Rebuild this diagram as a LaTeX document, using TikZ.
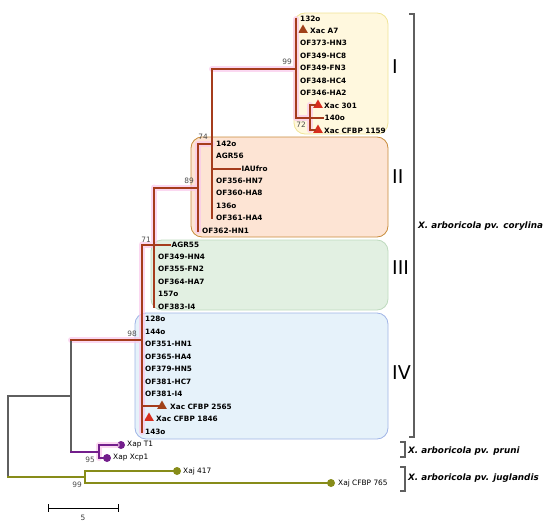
\documentclass[tikz,border=0pt]{standalone}
\usepackage{fontspec}
\setmainfont{DejaVu Sans}
\usetikzlibrary{shapes.geometric}
\definecolor{clred}{RGB}{165,60,28}
\definecolor{clgray}{RGB}{95,95,95}
\definecolor{clprun}{RGB}{115,30,140}
\definecolor{cljugl}{RGB}{135,140,25}
\definecolor{clglow}{RGB}{250,200,235}
\definecolor{trired}{RGB}{215,45,30}
\definecolor{tribrown}{RGB}{160,65,25}
\definecolor{fillI}{RGB}{255,248,222}   \definecolor{drawI}{RGB}{240,228,150}
\definecolor{fillII}{RGB}{253,228,212}  \definecolor{drawII}{RGB}{200,140,60}
\definecolor{fillIII}{RGB}{226,240,226} \definecolor{drawIII}{RGB}{190,218,190}
\definecolor{fillIV}{RGB}{230,242,250}  \definecolor{drawIV}{RGB}{160,180,230}
\tikzstyle{leaf} = [anchor=west, inner sep=1.5pt, font=\fontsize{7.3}{8}\selectfont\bfseries]
\tikzstyle{outleaf} = [anchor=west, inner sep=1.5pt, font=\fontsize{7.4}{8}\selectfont]
\tikzstyle{boot} = [inner sep=0pt, text=black!70, font=\fontsize{7.4}{8}\selectfont]
\tikzstyle{groupbox} = [rounded corners=11pt, line width=0.8pt]
\tikzstyle{roman} = [anchor=west, inner sep=0pt, font=\fontsize{19}{20}\selectfont]
\tikzstyle{taxon} = [anchor=west, inner sep=0pt, font=\fontsize{8.8}{10}\selectfont\bfseries\itshape]
\tikzstyle{xactri} = [regular polygon, regular polygon sides=3, inner sep=0pt, minimum size=11pt, fill=trired]
\tikzstyle{dotmark} = [circle, inner sep=0pt, minimum size=8pt]

\begin{document}
\begin{tikzpicture}[x=1pt,y=-1pt,line cap=rect,
    redline/.style={draw=clred,line width=2pt},
    grayline/.style={draw=clgray,line width=1.2pt},
    prunline/.style={draw=clprun,line width=2pt},
    juglline/.style={draw=cljugl,line width=2pt},
    glowline/.style={draw=clglow,line width=6pt,opacity=0.7,line cap=round}]
  \useasboundingbox (0,0) rectangle (550,525);

  \draw[groupbox, fill=fillI, draw=drawI]     (294,13)  rectangle (388,134);
  \draw[groupbox, fill=fillII, draw=drawII]   (191,137) rectangle (388,237);
  \draw[groupbox, fill=fillIII, draw=drawIII] (151,240) rectangle (388,310);
  \draw[groupbox, fill=fillIV, draw=drawIV]   (135,313) rectangle (388,439);

  \coordinate (nR)  at (8,436.5);
  \coordinate (nA)  at (71,396);
  \coordinate (n98) at (142,340);
  \coordinate (n71) at (154,244.5);
  \coordinate (n89) at (198,187.5);
  \coordinate (n74) at (212,144);
  \coordinate (n99) at (296,69);
  \coordinate (n72) at (310,118);
  \coordinate (n95) at (99,451.5);
  \coordinate (nJ)  at (85,477);

  % group I
  \node[leaf] (l132)  at (298.5,19)  {132o};
  \node[xactri, fill=tribrown] (tA7) at (303,30) {};
  \node[leaf] (lA7)   at (308.5,31)  {Xac A7};
  \node[leaf] (l373)  at (298.5,43)  {OF373-HN3};
  \node[leaf] (l349c) at (298.5,56)  {OF349-HC8};
  \node[leaf] (l349f) at (298.5,68)  {OF349-FN3};
  \node[leaf] (l348)  at (298.5,81)  {OF348-HC4};
  \node[leaf] (l346)  at (298.5,93)  {OF346-HA2};
  \node[xactri] (t301)  at (318,105) {};
  \node[leaf] (l301)  at (322.5,106) {Xac 301};
  \node[leaf] (l140)  at (323,118)   {140o};
  \node[xactri] (t1159) at (318,130) {};
  \node[leaf] (l1159) at (322.5,131) {Xac CFBP 1159};

  % group II
  \node[leaf] (l142)  at (214.5,144) {142o};
  \node[leaf] (l56)   at (214.5,156) {AGR56};
  \node[leaf] (lIAU)  at (240,169)   {IAUfro};
  \node[leaf] (l356)  at (214.5,181) {OF356-HN7};
  \node[leaf] (l360)  at (214.5,193) {OF360-HA8};
  \node[leaf] (l136)  at (214.5,206) {136o};
  \node[leaf] (l361)  at (214.5,218) {OF361-HA4};
  \node[leaf] (l362)  at (200.5,231) {OF362-HN1};

  % group III
  \node[leaf] (l55)   at (170,244.5) {AGR55};
  \node[leaf] (l349h) at (156.5,257) {OF349-HN4};
  \node[leaf] (l355)  at (156.5,269) {OF355-FN2};
  \node[leaf] (l364)  at (156.5,282) {OF364-HA7};
  \node[leaf] (l157)  at (156.5,294) {157o};
  \node[leaf] (l383)  at (156.5,307) {OF383-I4};

  % group IV
  \node[leaf] (l128)  at (143.5,319) {128o};
  \node[leaf] (l144)  at (143.5,332) {144o};
  \node[leaf] (l351)  at (143.5,344) {OF351-HN1};
  \node[leaf] (l365)  at (143.5,357) {OF365-HA4};
  \node[leaf] (l379)  at (143.5,369) {OF379-HN5};
  \node[leaf] (l381c) at (143.5,382) {OF381-HC7};
  \node[leaf] (l381i) at (143.5,394) {OF381-I4};
  \node[xactri, fill=tribrown] (t2565) at (162,406) {};
  \node[leaf] (l2565) at (168.5,407) {Xac CFBP 2565};
  \node[xactri] (t1846) at (149,418) {};
  \node[leaf] (l1846) at (154.5,419) {Xac CFBP 1846};
  \node[leaf] (l143)  at (143.5,432) {143o};

  % pruni and juglandis
  \node[dotmark, fill=clprun] (dT1)  at (121,445) {};
  \node[outleaf] (lT1)  at (125.5,445) {Xap T1};
  \node[dotmark, fill=clprun] (dXcp) at (107,458) {};
  \node[outleaf] (lXcp) at (111.5,458) {Xap Xcp1};
  \node[dotmark, fill=cljugl] (d417) at (177,471) {};
  \node[outleaf] (l417) at (181.5,471) {Xaj 417};
  \node[dotmark, fill=cljugl] (d765) at (331,483) {};
  \node[outleaf] (l765) at (336.5,483) {Xaj CFBP 765};

  \draw[glowline] (nA|-n98) -- (n98) (n98|-n71) -- (n98|-l143) (n98|-n71) -- (n71)
    (n71|-n89) -- (n71) (n71|-n89) -- (n89) (n89|-n74) -- (n89|-l362)
    (n89|-n74) -- (n74) (n74|-n99) -- (n99) (n99|-l132) -- (n99|-n72)
    (n99|-n72) -- (n72) (n72|-t301) -- (n72|-t1159);
  \draw[glowline] (n95|-dT1) -- (n95|-dXcp) (n95|-dT1) -- (dT1);

  \draw[grayline] (nR|-nA) -- (nR|-nJ);
  \draw[grayline] (nR|-nA) -- (nA);
  \draw[juglline] (nR|-nJ) -- (nJ);
  \draw[grayline] (nA|-n98) -- (nA|-n95);
  \draw[redline]  (nA|-n98) -- (n98);
  \draw[prunline] (nA|-n95) -- (n95);
  \draw[redline]  (n98|-n71) -- (n98|-l143);
  \draw[redline]  (n98|-n71) -- (n71);
  \draw[redline]  (n98|-t2565) -- (t2565);
  \draw[redline]  (n71|-n89) -- (n71|-l383);
  \draw[redline]  (n71|-n89) -- (n89);
  \draw[redline]  (n71|-l55) -- (l55);
  \draw[redline]  (n89|-n74) -- (n89|-l362);
  \draw[redline]  (n89|-n74) -- (n74);
  \draw[redline]  (n74|-n99) -- (n74|-l361);
  \draw[redline]  (n74|-n99) -- (n99);
  \draw[redline]  (n74|-lIAU) -- (lIAU);
  \draw[redline]  (n99|-l132) -- (n99|-n72);
  \draw[redline]  (n99|-n72) -- (n72);
  \draw[redline]  (n72|-t301) -- (n72|-t1159);
  \draw[redline]  (n72|-t301) -- (t301);
  \draw[redline]  (n72) -- (l140);
  \draw[redline]  (n72|-t1159) -- (t1159);
  \draw[prunline] (n95|-dT1) -- (n95|-dXcp);
  \draw[prunline] (n95|-dT1) -- (dT1);
  \draw[prunline] (n95|-dXcp) -- (dXcp);
  \draw[juglline] (nJ|-d417) -- (nJ|-d765);
  \draw[juglline] (nJ|-d417) -- (d417);
  \draw[juglline] (nJ|-d765) -- (d765);

  \node[boot, anchor=south east] (b99)  at (292,65)  {99};
  \node[boot, anchor=north east] (b72)  at (306,122) {72};
  \node[boot, anchor=south east] (b74)  at (208,140) {74};
  \node[boot, anchor=south east] (b89)  at (194,184) {89};
  \node[boot, anchor=south east] (b71)  at (151,243) {71};
  \node[boot, anchor=south east] (b98)  at (137,337) {98};
  \node[boot, anchor=north east] (b95)  at (95,457)  {95};
  \node[boot, anchor=north east] (b99j) at (82,482)  {99};

  \node[roman] (rI)   at (392,67)  {I};
  \node[roman] (rII)  at (392,177) {II};
  \node[roman] (rIII) at (392,268) {III};
  \node[roman] (rIV)  at (392,373) {IV};

  \draw[grayline, line cap=butt] (409,14) -- (414,14) -- (414,437) -- (409,437);
  \draw[grayline, line cap=butt] (400,442) -- (405,442) -- (405,457) -- (400,457);
  \draw[grayline, line cap=butt] (400,467) -- (405,467) -- (405,491) -- (400,491);
  \node[taxon] (tcor) at (418,226) {X. arboricola pv. corylina};
  \node[taxon] (tpru) at (408,451) {X. arboricola pv. pruni};
  \node[taxon] (tjug) at (408,478) {X. arboricola pv. juglandis};

  \draw[draw=black, line width=1pt, line cap=butt] (48,504) -- (48,512) (48,508) -- (118,508) (118,504) -- (118,512);
  \node[boot, text=black!80] (scale) at (83,518) {5};
\end{tikzpicture}
\end{document}
